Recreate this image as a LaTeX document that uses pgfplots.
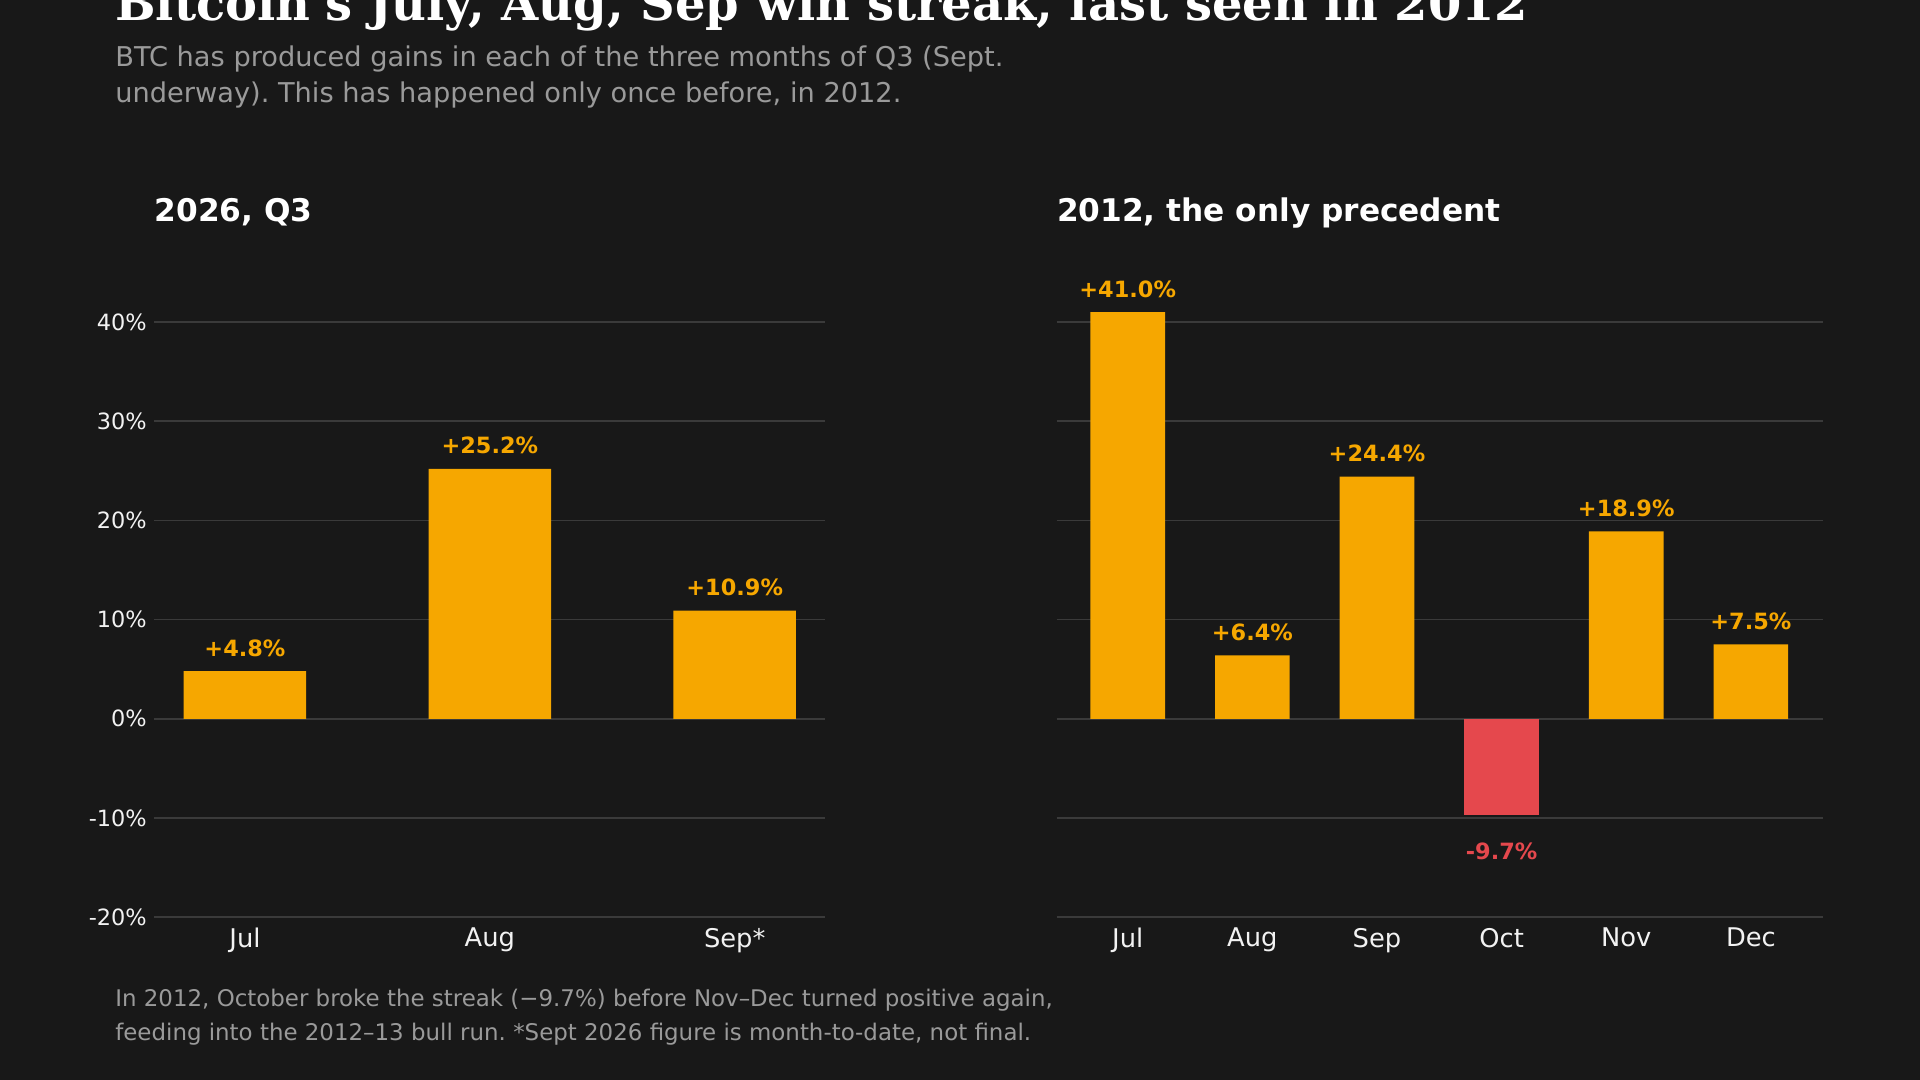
\documentclass[border=0pt]{standalone}
\usepackage{pgfplots}
\pgfplotsset{compat=1.18}
\usepackage{fontspec}
\setmainfont{DejaVu Sans}
\newfontfamily\titlefont{DejaVu Serif}
\frenchspacing

\definecolor{bg}{HTML}{181818}
\definecolor{btc}{HTML}{F6A700}
\definecolor{loss}{HTML}{E5484D}
\definecolor{gridc}{HTML}{3A3A3A}
\definecolor{subtxt}{HTML}{9A9A9A}
\definecolor{ticktxt}{HTML}{F2F2F2}

\pgfplotsset{
  panel/.style={
    scale only axis,
    height=380.9bp,
    ymin=-20, ymax=44,
    ytick={-20,-10,0,10,20,30,40},
    ymajorgrids,
    grid style={gridc, line width=1bp},
    axis line style={draw=none},
    major tick length=0pt,
    xtick=data,
    ybar, bar shift=0pt,
    every axis plot/.append style={draw=none},
    tick label style={ticktxt},
    xticklabel style={font=\fontsize{15.5}{18}\selectfont, yshift=-3bp},
    yticklabel style={font=\fontsize{13.5}{16}\selectfont, xshift=-1bp},
    point meta=explicit symbolic,
    nodes near coords,
    every node near coord/.append style={
      font=\bfseries\fontsize{13.5}{16}\selectfont, anchor=base, yshift=9bp},
    /pgf/number format/assume math mode=true,
  },
}

\begin{document}
\begin{tikzpicture}
\fill[bg] (0,0) rectangle (1152bp,648bp);
\useasboundingbox (0,0) rectangle (1152bp,648bp);

\node[anchor=base west, inner sep=0pt, white, font=\titlefont\bfseries\fontsize{28.9}{34}\selectfont]
  at (69bp,635.5bp) {Bitcoin's July, Aug, Sep win streak, last seen in 2012};
% anchor base = baseline of the last line
\node[anchor=base west, inner sep=0pt, subtxt, font=\fontsize{16.4}{21.6}\selectfont, align=left]
  at (69bp,586.3bp) {BTC has produced gains in each of the three months of Q3 (Sept.\\underway). This has happened only once before, in 2012.};

\node[anchor=base west, inner sep=0pt, white, font=\bfseries\fontsize{18.8}{22}\selectfont]
  at (92.6bp,515bp) {2026, Q3};
\node[anchor=base west, inner sep=0pt, white, font=\bfseries\fontsize{18.8}{22}\selectfont]
  at (634bp,515bp) {2012, the only precedent};

% left panel: 2026 Q3
\begin{axis}[panel,
  at={(92.6bp,97.7bp)}, anchor=south west,
  width=402.6bp,
  xmin=-0.37, xmax=2.37,
  xticklabels={Jul,Aug,Sep*},
  yticklabels={-20\%,-10\%,0\%,10\%,20\%,30\%,40\%},
  bar width=73.5bp,
]
\addplot[fill=btc, every node near coord/.append style={btc}] coordinates {
  (0,4.8) [+4.8\%]
  (1,25.2) [+25.2\%]
  (2,10.9) [+10.9\%]
};
\end{axis}

% right panel: 2012
\begin{axis}[panel,
  at={(634bp,97.7bp)}, anchor=south west,
  width=459.9bp,
  xmin=-0.57, xmax=5.58,
  xtick={0,1,2,3,4,5},
  xticklabels={Jul,Aug,Sep,Oct,Nov,Dec},
  yticklabels={},
  bar width=44.8bp,
]
\addplot[fill=btc, every node near coord/.append style={btc}] coordinates {
  (0,41.0) [+41.0\%]
  (1,6.4) [+6.4\%]
  (2,24.4) [+24.4\%]
  (4,18.9) [+18.9\%]
  (5,7.5) [+7.5\%]
};
\addplot[fill=loss, every node near coord/.append style={loss, yshift=-36bp}] coordinates {
  (3,-9.7) [-9.7\%]
};
\end{axis}

\node[anchor=base west, inner sep=0pt, subtxt, font=\fontsize{13.8}{20.5}\selectfont, align=left]
  at (69bp,23.5bp) {In 2012, October broke the streak (−9.7\%) before Nov–Dec turned positive again,\\feeding into the 2012–13 bull run. *Sept 2026 figure is month-to-date, not final.};
\end{tikzpicture}
\end{document}
